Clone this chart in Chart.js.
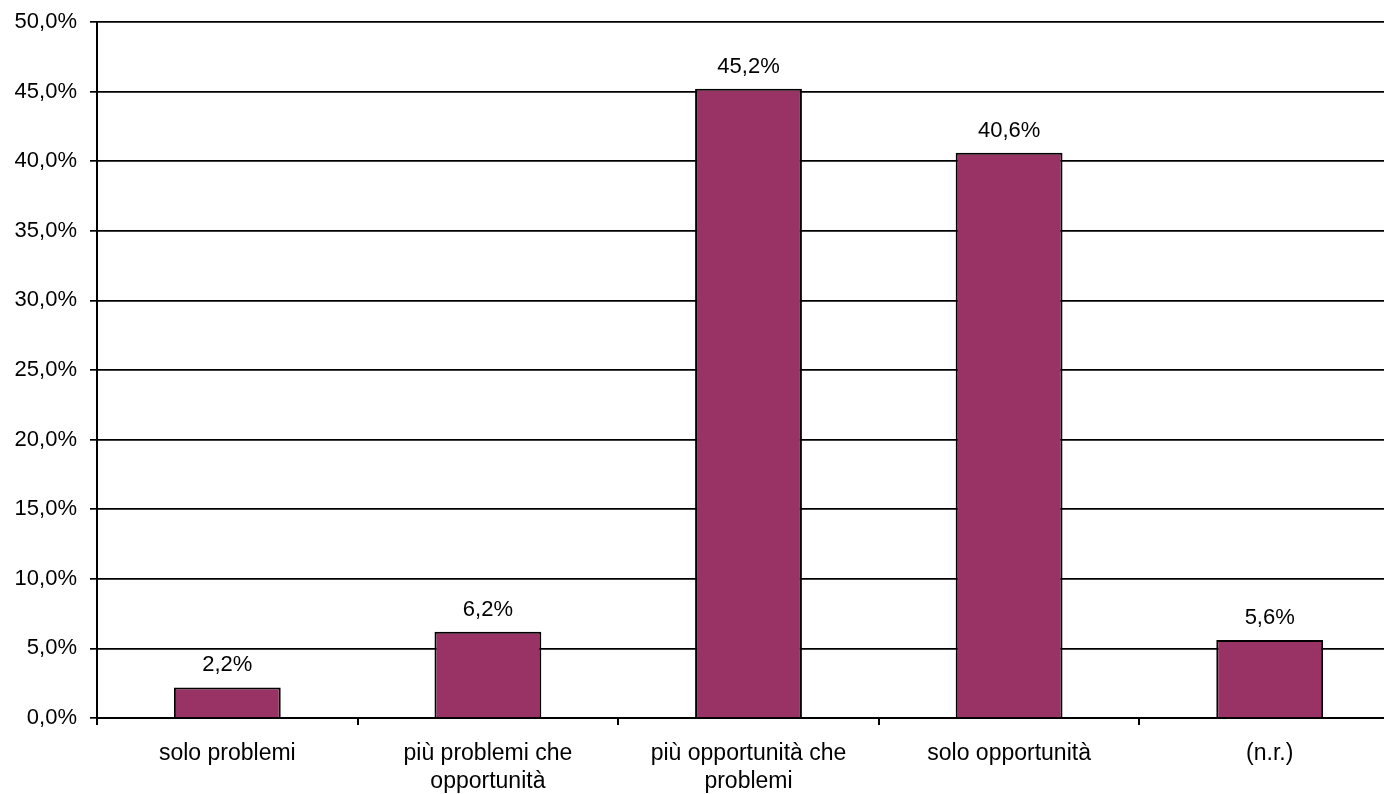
<!DOCTYPE html>
<html>
<head>
<meta charset="utf-8">
<script src="https://cdn.jsdelivr.net/npm/chart.js@4"></script>
<style>
  html, body { margin: 0; padding: 0; background: #fff; overflow: hidden; width: 1384px; height: 794px; }
  #wrap { position: absolute; left: 0; top: 0; width: 1400px; height: 794px; }
</style>
</head>
<body>
<div id="wrap"><canvas id="c" width="1400" height="794"></canvas></div>
<script>
const categories = [
  "solo problemi",
  ["più problemi che", "opportunità"],
  ["più opportunità che", "problemi"],
  "solo opportunità",
  "(n.r.)"
];
const values = [2.2, 6.2, 45.2, 40.6, 5.6];
const yMin = 0, yMax = 50, yStep = 5;

const fmt = v => v.toFixed(1).replace('.', ',') + '%';
const FONT = "'Liberation Sans', Arial, sans-serif";

const labelPlugin = {
  id: 'barLabels',
  afterDatasetsDraw(chart) {
    const ctx = chart.ctx;
    const meta = chart.getDatasetMeta(0);
    ctx.save();
    ctx.font = "22px " + FONT;
    ctx.fillStyle = '#000';
    ctx.textAlign = 'center';
    ctx.textBaseline = 'alphabetic';
    meta.data.forEach((bar, i) => {
      ctx.fillText(fmt(values[i]), bar.x, bar.y - 16);
    });
    ctx.restore();
  }
};

new Chart(document.getElementById('c'), {
  type: 'bar',
  data: {
    labels: categories,
    datasets: [{
      data: values,
      backgroundColor: '#993366',
      borderColor: '#000',
      borderWidth: 2,
      barPercentage: 0.41,
      categoryPercentage: 1.0
    }]
  },
  options: {
    responsive: false,
    animation: false,
    devicePixelRatio: 1,
    layout: { padding: { top: 22, left: 0, right: 0, bottom: 0 } },
    plugins: { legend: { display: false }, tooltip: { enabled: false } },
    scales: {
      x: {
        grid: { display: true, drawOnChartArea: false, drawTicks: true, tickLength: 7, color: '#000', lineWidth: 2, offset: true },
        border: { display: true, color: '#000', width: 2 },
        ticks: { color: '#000', font: { family: FONT, size: 23 }, padding: 15, maxRotation: 0, autoSkip: false },
        afterFit(scale) { scale.height = 76; scale.paddingLeft = 0; scale.paddingRight = 0; }
      },
      y: {
        min: yMin, max: yMax,
        grid: { color: '#000', lineWidth: 1.7, tickLength: 7 },
        border: { display: true, color: '#000', width: 2 },
        ticks: { stepSize: yStep, color: '#000', font: { family: FONT, size: 22 }, padding: 13, callback: v => fmt(v) },
        afterFit(scale) { scale.width = 97; scale.paddingTop = 0; scale.paddingBottom = 0; }
      }
    }
  },
  plugins: [labelPlugin]
});
</script>
</body>
</html>
